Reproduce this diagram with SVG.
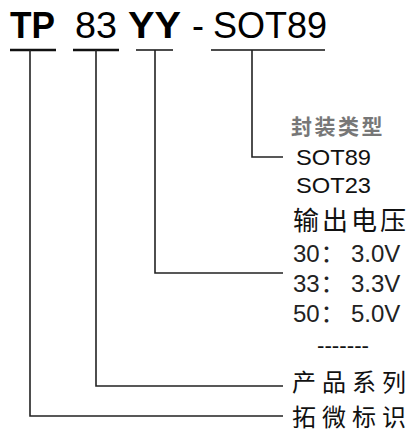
<svg xmlns="http://www.w3.org/2000/svg" width="415" height="434" viewBox="0 0 415 434">
<style>
.big{font-family:"Liberation Sans",Arial,sans-serif;font-size:36px;fill:#000}
.b{font-weight:bold}
.lbl{font-family:"Liberation Sans","Noto Sans CJK SC",sans-serif;font-size:22px;fill:#111}
.v{font-family:"Liberation Sans","Noto Sans CJK SC",sans-serif;font-size:24px;fill:#222}
.cjk{font-family:"Noto Sans CJK SC",sans-serif;font-size:26px;fill:#111;letter-spacing:3px}
.cjk2{font-family:"Noto Sans CJK SC",sans-serif;font-size:24px;fill:#111;letter-spacing:6px}
.sm{font-family:"Noto Sans CJK SC",sans-serif;font-size:21px;fill:#777;letter-spacing:2.5px;font-weight:bold}
.ln{fill:none;stroke:#222;stroke-width:1.6}
.ul{stroke:#111;fill:none}
</style>
<rect width="415" height="434" fill="#fff"/>
<g id="code">
<text class="big b" x="10" y="38" textLength="45" lengthAdjust="spacingAndGlyphs">TP</text>
<text class="big" x="75" y="38" textLength="42" lengthAdjust="spacingAndGlyphs">83</text>
<text class="big b" x="128" y="38" textLength="53" lengthAdjust="spacingAndGlyphs">YY</text>
<text class="big" x="192" y="38">-</text>
<text class="big" x="213" y="38" textLength="114" lengthAdjust="spacingAndGlyphs">SOT89</text>
<line class="ul" x1="10" y1="50" x2="56" y2="50" stroke-width="2.4"/>
<line class="ul" x1="73" y1="50" x2="119" y2="50" stroke-width="2.4"/>
<line class="ul" x1="136" y1="50" x2="173" y2="50" stroke-width="1.6"/>
<line class="ul" x1="211" y1="50" x2="325" y2="50" stroke-width="1.4"/>
</g>
<g id="connectors">
<polyline class="ln" points="30,50 30,416 283,416"/>
<polyline class="ln" points="96,50 96,386 283,386"/>
<polyline class="ln" points="155,50 155,273 283,273" stroke="#444"/>
<polyline class="ln" points="252,50 252,157 283,157" stroke="#444"/>
</g>
<g id="package">
<text class="sm" x="291" y="134">封装类型</text>
<text class="lbl" x="296" y="165" textLength="75" lengthAdjust="spacingAndGlyphs">SOT89</text>
<text class="lbl" x="296" y="193" textLength="75" lengthAdjust="spacingAndGlyphs">SOT23</text>
</g>
<g id="voltage">
<text class="cjk" x="293" y="230">输出电压</text>
<text class="v" x="293" y="262">30<tspan x="320.5">：</tspan><tspan x="351">3.0V</tspan></text>
<text class="v" x="293" y="292">33<tspan x="320.5">：</tspan><tspan x="351">3.3V</tspan></text>
<text class="v" x="293" y="322">50<tspan x="320.5">：</tspan><tspan x="351">5.0V</tspan></text>
<text class="lbl" x="317" y="353" textLength="52" lengthAdjust="spacingAndGlyphs" font-size="18">-------</text>
</g>
<g id="series">
<text class="cjk2" x="292" y="391">产品系列</text>
</g>
<g id="brand">
<text class="cjk2" x="292" y="426">拓微标识</text>
</g>
</svg>
